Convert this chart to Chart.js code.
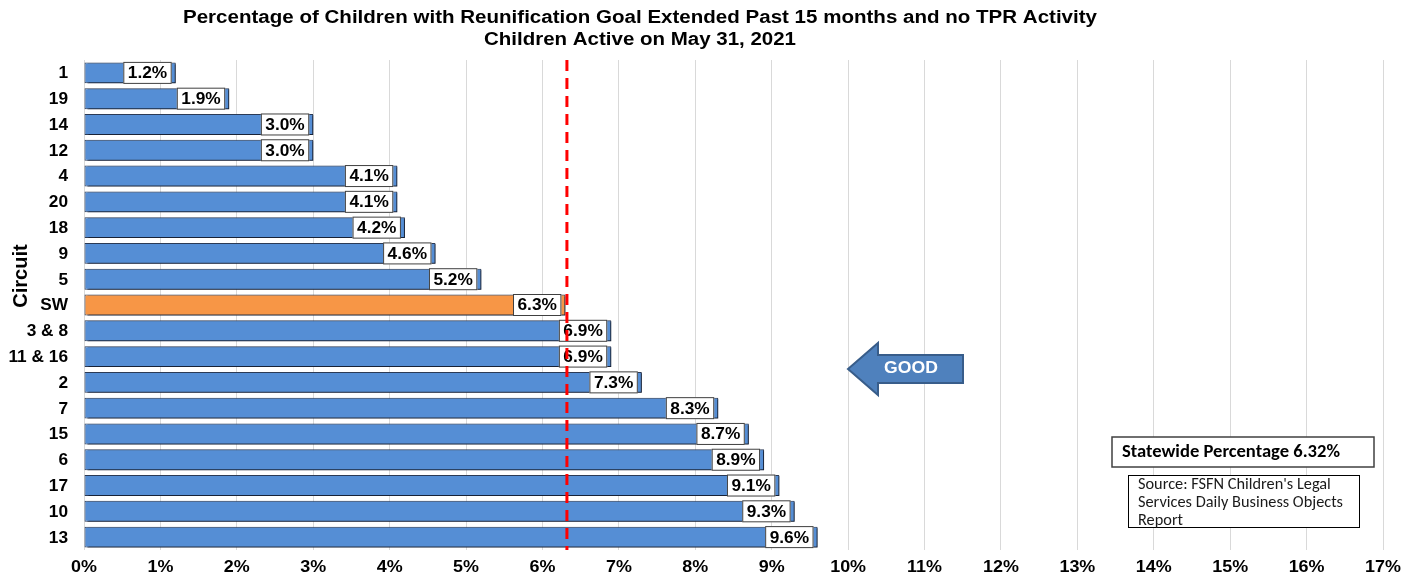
<!DOCTYPE html>
<html>
<head>
<meta charset="utf-8">
<script src="https://cdn.jsdelivr.net/npm/chart.js@4/dist/chart.umd.min.js"></script>
<style>
  html, body { margin: 0; padding: 0; background: #fff; }
  #wrap { width: 1413px; height: 579px; position: relative; }
</style>
</head>
<body>
<div id="wrap"><canvas id="circuitChart" width="1413" height="579"></canvas></div>
<script>
const circuits = ['1', '19', '14', '12', '4', '20', '18', '9', '5', 'SW', '3 & 8', '11 & 16', '2', '7', '15', '6', '17', '10', '13'];
const percents = [1.2, 1.9, 3.0, 3.0, 4.1, 4.1, 4.2, 4.6, 5.2, 6.3, 6.9, 6.9, 7.3, 8.3, 8.7, 8.9, 9.1, 9.3, 9.6];
const statewide = 6.32;
const xTicks = [0, 1, 2, 3, 4, 5, 6, 7, 8, 9, 10, 11, 12, 13, 14, 15, 16, 17];
const titleLines = ['Percentage of Children with Reunification Goal Extended Past 15 months and no TPR Activity', 'Children Active on May 31, 2021'];
const sourceLines = ["Source: FSFN Children's Legal", 'Services Daily Business Objects', 'Report'];

const ARIAL = "'Liberation Sans', Arial, sans-serif";
const NARROW = "Carlito, 'Liberation Sans Narrow', 'Liberation Sans', sans-serif";

const barColors = circuits.map(c => c === 'SW' ? '#F79646' : '#558ED5');

// text drawn a little wider than the font, like the stretched office chart
function wideText(ctx, txt, x, y, font, align, sx) {
  ctx.save();
  ctx.font = font;
  ctx.textAlign = align;
  ctx.translate(x, y);
  ctx.scale(sx, 1);
  ctx.fillText(txt, 0, 0);
  ctx.restore();
}

// same, but squeezed or stretched to a given width
function fitText(ctx, txt, x, y, font, align, width) {
  ctx.save();
  ctx.font = font;
  const sx = width / ctx.measureText(txt).width;
  ctx.restore();
  wideText(ctx, txt, x, y, font, align, sx);
}

// bar shadow so each bar gets the darker right edge
const barShadow = {
  id: 'barShadow',
  beforeDatasetsDraw(chart) {
    const ctx = chart.ctx;
    ctx.save();
    ctx.shadowColor = 'rgba(20,30,50,0.85)';
    ctx.shadowOffsetX = 3;
    ctx.shadowOffsetY = 1;
    ctx.shadowBlur = 0;
  },
  afterDatasetsDraw(chart) {
    chart.ctx.restore();
  }
};

const extras = {
  id: 'extras',
  afterDatasetsDraw(chart) {
    const ctx = chart.ctx;
    const area = chart.chartArea;
    const xs = chart.scales.x;
    const SX = 1.08;

    // value boxes at the bar ends
    const bars = chart.getDatasetMeta(0).data;
    ctx.save();
    ctx.font = 'bold 16px ' + ARIAL;
    ctx.textBaseline = 'middle';
    bars.forEach((bar, i) => {
      const txt = percents[i].toFixed(1) + '%';
      const w = ctx.measureText(txt).width * SX + 9;
      const h = 22;
      const right = bar.x - 4;
      const left = right - w;
      const top = bar.y - h / 2;
      ctx.fillStyle = '#fff';
      ctx.fillRect(left, top, w, h);
      ctx.strokeStyle = '#404040';
      ctx.lineWidth = 1;
      ctx.strokeRect(left + 0.5, top + 0.5, w - 1, h - 1);
      ctx.fillStyle = '#000';
      wideText(ctx, txt, left + w / 2, bar.y + 1, 'bold 16px ' + ARIAL, 'center', SX);
    });
    ctx.restore();

    // statewide dashed line
    const sx = xs.getPixelForValue(statewide);
    ctx.save();
    ctx.strokeStyle = '#FF0000';
    ctx.lineWidth = 3;
    ctx.setLineDash([11, 7]);
    ctx.beginPath();
    ctx.moveTo(sx, area.top);
    ctx.lineTo(sx, area.bottom);
    ctx.stroke();
    ctx.restore();
  },
  afterDraw(chart) {
    const ctx = chart.ctx;
    const xs = chart.scales.x;
    const ys = chart.scales.y;
    ctx.save();
    ctx.fillStyle = '#000';

    // axis tick labels
    ctx.textBaseline = 'middle';
    xTicks.forEach(v => {
      wideText(ctx, v + '%', xs.getPixelForValue(v), 568, 'bold 16px ' + ARIAL, 'center', 1.12);
    });
    circuits.forEach((c, i) => {
      wideText(ctx, c, 68, ys.getPixelForValue(i) + 1, 'bold 16px ' + ARIAL, 'right', 1.08);
    });

    // title
    ctx.textBaseline = 'alphabetic';
    fitText(ctx, titleLines[0], 640, 23, 'bold 18px ' + ARIAL, 'center', 914);
    fitText(ctx, titleLines[1], 640, 45, 'bold 18px ' + ARIAL, 'center', 312);

    // axis title
    ctx.save();
    ctx.translate(21, 276);
    ctx.rotate(-Math.PI / 2);
    ctx.textAlign = 'center';
    ctx.textBaseline = 'middle';
    ctx.font = 'bold 20px ' + ARIAL;
    ctx.fillText('Circuit', 0, 0);
    ctx.restore();

    // GOOD arrow
    ctx.beginPath();
    ctx.moveTo(848, 369);
    ctx.lineTo(878, 343);
    ctx.lineTo(878, 355);
    ctx.lineTo(963, 355);
    ctx.lineTo(963, 383);
    ctx.lineTo(878, 383);
    ctx.lineTo(878, 395);
    ctx.closePath();
    ctx.fillStyle = '#4F81BD';
    ctx.fill();
    ctx.strokeStyle = '#385D8A';
    ctx.lineWidth = 2;
    ctx.stroke();
    ctx.fillStyle = '#fff';
    ctx.textBaseline = 'middle';
    wideText(ctx, 'GOOD', 911, 369, 'bold 16px ' + ARIAL, 'center', 1.1);

    // statewide note
    ctx.fillStyle = '#fff';
    ctx.fillRect(1112, 437, 262, 30);
    ctx.strokeStyle = '#404040';
    ctx.lineWidth = 1.5;
    ctx.strokeRect(1112, 437, 262, 30);
    ctx.fillStyle = '#000';
    fitText(ctx, 'Statewide Percentage ' + statewide.toFixed(2) + '%', 1122, 453, 'bold 17px ' + NARROW, 'left', 218);

    // source note
    ctx.fillStyle = '#fff';
    ctx.fillRect(1128, 475, 231, 52);
    ctx.strokeStyle = '#000';
    ctx.lineWidth = 1;
    ctx.strokeRect(1128.5, 475.5, 231, 52);
    ctx.fillStyle = '#1a1a1a';
    ctx.save();
    ctx.font = '15.5px ' + NARROW;
    const srcScale = 205 / ctx.measureText(sourceLines[1]).width;
    ctx.restore();
    sourceLines.forEach((ln, i) => wideText(ctx, ln, 1138, 485 + i * 18, '15.5px ' + NARROW, 'left', srcScale));

    ctx.restore();
  }
};

new Chart(document.getElementById('circuitChart').getContext('2d'), {
  type: 'bar',
  data: {
    labels: circuits,
    datasets: [{
      data: percents,
      backgroundColor: barColors,
      borderColor: '#2B3A55',
      borderWidth: 1,
      borderSkipped: false,
      barPercentage: 0.81,
      categoryPercentage: 1
    }]
  },
  options: {
    indexAxis: 'y',
    responsive: false,
    animation: false,
    devicePixelRatio: 1,
    layout: { padding: { top: 60, right: 30, left: 0, bottom: 0 } },
    plugins: {
      legend: { display: false },
      tooltip: { enabled: false },
      title: { display: false }
    },
    scales: {
      x: {
        min: 0,
        max: 17,
        afterBuildTicks(scale) { scale.ticks = xTicks.map(v => ({ value: v })); },
        afterFit(scale) { scale.height = 29; },
        ticks: { display: false },
        grid: { color: '#D9D9D9', lineWidth: 1, drawTicks: false },
        border: { display: false }
      },
      y: {
        afterFit(scale) { scale.width = 84; },
        ticks: { display: false },
        grid: { display: false, drawTicks: false },
        border: { display: false }
      }
    }
  },
  plugins: [barShadow, extras]
});
</script>
</body>
</html>
